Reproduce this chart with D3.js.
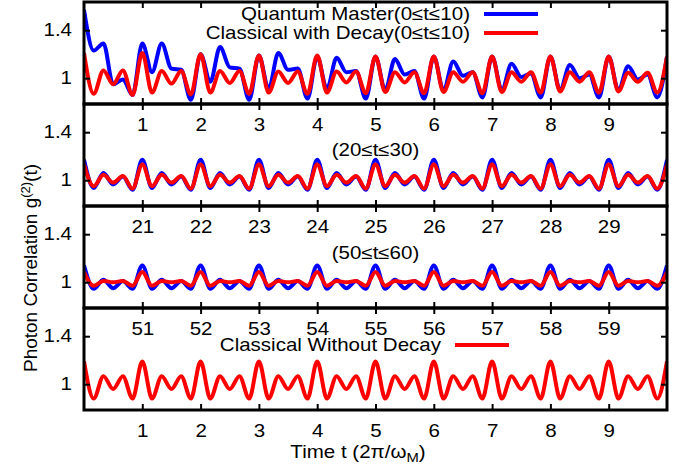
<!DOCTYPE html>
<html>
<head>
<meta charset="utf-8">
<script src="https://cdn.jsdelivr.net/npm/d3@7"></script>
<style>
body { margin: 0; background: #fff; }
text { font-family: "Liberation Sans", Arial, sans-serif; font-size: 18px; fill: #000; }
</style>
</head>
<body>
<div id="chart"></div>
<script>
// time offset of each panel and the labels under its x axis
var offsets = [0, 20, 50, 0];
var xTickLabels = [
    [1, 2, 3, 4, 5, 6, 7, 8, 9],
    [21, 22, 23, 24, 25, 26, 27, 28, 29],
    [51, 52, 53, 54, 55, 56, 57, 58, 59],
    [1, 2, 3, 4, 5, 6, 7, 8, 9]
];
var yTicks = [1, 1.4];
var samplesPerUnit = 6; // values below are read every 1/6 time unit

// g2(t), quantum master equation
var quantum0 = [
    1.57, 1.23, 1.29, 0.95, 0.99, 0.86,
    1.29, 1.05, 1.29, 1.08, 1.07, 0.82,
    1.20, 0.97, 1.26, 1.09, 1.08, 0.82,
    1.19, 0.91, 1.21, 1.07, 1.08, 0.83,
    1.18, 0.91, 1.17, 1.05, 1.06, 0.83,
    1.18, 0.90, 1.16, 1.03, 1.06, 0.83,
    1.18, 0.90, 1.14, 1.02, 1.05, 0.84,
    1.18, 0.90, 1.12, 1.01, 1.04, 0.84,
    1.18, 0.90, 1.11, 1.00, 1.03, 0.84,
    1.18, 0.90, 1.10, 0.99, 1.03, 0.84,
    1.18
];
var quantum20 = [
    1.17, 0.935, 1.06, 0.965, 1.03, 0.92,
    1.17, 0.935, 1.06, 0.965, 1.03, 0.92,
    1.17, 0.935, 1.06, 0.965, 1.03, 0.92,
    1.17, 0.935, 1.06, 0.965, 1.03, 0.92,
    1.17, 0.935, 1.06, 0.965, 1.03, 0.92,
    1.17, 0.935, 1.06, 0.965, 1.03, 0.92,
    1.17, 0.935, 1.06, 0.965, 1.03, 0.92,
    1.17, 0.935, 1.06, 0.965, 1.03, 0.92,
    1.17, 0.935, 1.06, 0.965, 1.03, 0.92,
    1.17, 0.935, 1.06, 0.965, 1.03, 0.92,
    1.17
];
var quantum50 = [
    1.14, 0.945, 1.02, 0.95, 1.01, 0.945,
    1.14, 0.945, 1.02, 0.95, 1.01, 0.945,
    1.14, 0.945, 1.02, 0.95, 1.01, 0.945,
    1.14, 0.945, 1.02, 0.95, 1.01, 0.945,
    1.14, 0.945, 1.02, 0.95, 1.01, 0.945,
    1.14, 0.945, 1.02, 0.95, 1.01, 0.945,
    1.14, 0.945, 1.02, 0.95, 1.01, 0.945,
    1.14, 0.945, 1.02, 0.95, 1.01, 0.945,
    1.14, 0.945, 1.02, 0.95, 1.01, 0.945,
    1.14, 0.945, 1.02, 0.95, 1.01, 0.945,
    1.14
];

// g2(t), classical with decay
var decay0 = [
    1.21, 0.87, 1.065, 0.95, 1.065, 0.86,
    1.21, 0.88, 1.06, 0.955, 1.06, 0.865,
    1.20, 0.88, 1.06, 0.96, 1.06, 0.87,
    1.19, 0.88, 1.055, 0.96, 1.055, 0.87,
    1.19, 0.88, 1.055, 0.965, 1.055, 0.875,
    1.18, 0.885, 1.05, 0.965, 1.05, 0.875,
    1.18, 0.885, 1.05, 0.97, 1.05, 0.875,
    1.18, 0.885, 1.05, 0.97, 1.05, 0.88,
    1.18, 0.89, 1.05, 0.97, 1.05, 0.88,
    1.18, 0.89, 1.045, 0.97, 1.045, 0.88,
    1.18
];
var decay20 = [
    1.13, 0.95, 1.045, 0.98, 1.035, 0.93,
    1.13, 0.95, 1.045, 0.98, 1.035, 0.93,
    1.13, 0.95, 1.045, 0.98, 1.035, 0.93,
    1.13, 0.95, 1.045, 0.98, 1.035, 0.93,
    1.13, 0.95, 1.045, 0.98, 1.035, 0.93,
    1.13, 0.95, 1.045, 0.98, 1.035, 0.93,
    1.13, 0.95, 1.045, 0.98, 1.035, 0.93,
    1.13, 0.95, 1.045, 0.98, 1.035, 0.93,
    1.13, 0.95, 1.045, 0.98, 1.035, 0.93,
    1.13, 0.95, 1.045, 0.98, 1.035, 0.93,
    1.13
];
var decay50 = [
    1.085, 0.97, 1.01, 1.0, 1.01, 0.97,
    1.085, 0.97, 1.01, 1.0, 1.01, 0.97,
    1.085, 0.97, 1.01, 1.0, 1.01, 0.97,
    1.085, 0.97, 1.01, 1.0, 1.01, 0.97,
    1.085, 0.97, 1.01, 1.0, 1.01, 0.97,
    1.085, 0.97, 1.01, 1.0, 1.01, 0.97,
    1.085, 0.97, 1.01, 1.0, 1.01, 0.97,
    1.085, 0.97, 1.01, 1.0, 1.01, 0.97,
    1.085, 0.97, 1.01, 1.0, 1.01, 0.97,
    1.085, 0.97, 1.01, 1.0, 1.01, 0.97,
    1.085
];

// g2(t), classical without decay
var noDecay = [
    1.19, 0.88, 1.067, 0.96, 1.067, 0.88,
    1.19, 0.88, 1.067, 0.96, 1.067, 0.88,
    1.19, 0.88, 1.067, 0.96, 1.067, 0.88,
    1.19, 0.88, 1.067, 0.96, 1.067, 0.88,
    1.19, 0.88, 1.067, 0.96, 1.067, 0.88,
    1.19, 0.88, 1.067, 0.96, 1.067, 0.88,
    1.19, 0.88, 1.067, 0.96, 1.067, 0.88,
    1.19, 0.88, 1.067, 0.96, 1.067, 0.88,
    1.19, 0.88, 1.067, 0.96, 1.067, 0.88,
    1.19, 0.88, 1.067, 0.96, 1.067, 0.88,
    1.19
];

var panels = [
    { blue: quantum0, red: decay0 },
    { blue: quantum20, red: decay20 },
    { blue: quantum50, red: decay50 },
    { blue: null, red: noDecay }
];

var left = 84, right = 667;
var panelBottoms = [104, 206, 308, 410];
var panelHeight = 102;
var textStretch = 1.14; // the original lettering is wider than it is tall

var svg = d3.select("#chart").append("svg")
    .attr("width", 694)
    .attr("height", 468);

function toPoints(values, off) {
    return values.map(function (v, i) { return { t: off + i / samplesPerUnit, g: v }; });
}

// widen text horizontally around its anchor point
function stretch(sel) {
    sel.each(function () {
        var t = d3.select(this);
        var x = +t.attr("x") || 0, y = +t.attr("y") || 0;
        t.attr("transform", "translate(" + x + "," + y + ") scale(" + textStretch + ",1) translate(" + (-x) + "," + (-y) + ")");
    });
}

panels.forEach(function (p, k) {
    var off = offsets[k];
    var bottom = panelBottoms[k];
    var top = bottom - panelHeight;

    var x = d3.scaleLinear().domain([off, off + 10]).range([left, right]);
    var y = d3.scaleLinear().domain([0.785, 1.635]).range([bottom, top]);

    var g = svg.append("g").attr("class", "panel");

    svg.append("clipPath").attr("id", "clip" + k)
        .append("rect")
        .attr("x", left).attr("y", top)
        .attr("width", right - left).attr("height", panelHeight);

    var line = d3.line()
        .x(function (d) { return x(d.t); })
        .y(function (d) { return y(d.g); })
        .curve(d3.curveMonotoneX);

    var curves = g.append("g").attr("clip-path", "url(#clip" + k + ")");
    if (p.blue) {
        curves.append("path")
            .datum(toPoints(p.blue, off))
            .attr("d", line)
            .attr("fill", "none")
            .attr("stroke", "#0000ff")
            .attr("stroke-width", 4)
            .attr("stroke-linejoin", "round");
    }
    curves.append("path")
        .datum(toPoints(p.red, off))
        .attr("d", line)
        .attr("fill", "none")
        .attr("stroke", "#ff0000")
        .attr("stroke-width", 4)
        .attr("stroke-linejoin", "round");

    var tickVals = xTickLabels[k];

    // bottom axis: inward ticks + labels
    var xb = g.append("g")
        .attr("transform", "translate(0," + bottom + ")")
        .call(d3.axisBottom(x).tickValues(tickVals).tickSizeInner(-6).tickSizeOuter(0)
            .tickPadding(14).tickFormat(d3.format("d")));
    // top mirror ticks
    var xt = g.append("g")
        .attr("transform", "translate(0," + top + ")")
        .call(d3.axisTop(x).tickValues(tickVals).tickSizeInner(-6).tickSizeOuter(0)
            .tickFormat(""));
    // y axis
    var yl = g.append("g")
        .attr("transform", "translate(" + left + ",0)")
        .call(d3.axisLeft(y).tickValues(yTicks).tickSizeInner(-6).tickSizeOuter(0)
            .tickPadding(12).tickFormat(function (d) { return d === 1 ? "1" : "1.4"; }));
    var yr = g.append("g")
        .attr("transform", "translate(" + right + ",0)")
        .call(d3.axisRight(y).tickValues(yTicks).tickSizeInner(-6).tickSizeOuter(0)
            .tickFormat(""));

    [xb, xt, yl, yr].forEach(function (a) {
        a.select(".domain").remove();
        a.selectAll("line").attr("stroke", "#000").attr("stroke-width", 2);
        a.selectAll("text").attr("font-size", null).attr("font-family", null).style("font-size", "18px");
    });
    stretch(xb.selectAll("text"));
    stretch(yl.selectAll("text"));

    g.append("rect")
        .attr("x", left).attr("y", top)
        .attr("width", right - left).attr("height", panelHeight)
        .attr("fill", "none")
        .attr("stroke", "#000")
        .attr("stroke-width", 3);
});

// legends and range notes
function legendRow(xText, yMid, label, color) {
    svg.append("text")
        .attr("x", xText).attr("y", yMid + 6.5)
        .attr("text-anchor", "end")
        .text(label)
        .call(stretch);
    svg.append("line")
        .attr("x1", xText + 14).attr("x2", xText + 68)
        .attr("y1", yMid).attr("y2", yMid)
        .attr("stroke", color).attr("stroke-width", 4);
}
legendRow(470, 14, "Quantum Master(0\u2264t\u226410)", "#0000ff");
legendRow(470, 33, "Classical with Decay(0\u2264t\u226410)", "#ff0000");
legendRow(441, 345, "Classical Without Decay", "#ff0000");

svg.append("text").attr("x", 375.5).attr("y", 156.5).attr("text-anchor", "middle")
    .text("(20\u2264t\u226430)").call(stretch);
svg.append("text").attr("x", 375.5).attr("y", 259.5).attr("text-anchor", "middle")
    .text("(50\u2264t\u226460)").call(stretch);

// axis titles
var xTitle = svg.append("text")
    .attr("x", 358).attr("y", 458)
    .attr("text-anchor", "middle")
    .text("Time t (2\u03c0/\u03c9");
xTitle.append("tspan").attr("dy", 4).style("font-size", "13px").text("M");
xTitle.append("tspan").attr("dy", -4).text(")");
stretch(xTitle);

var yTitle = svg.append("text")
    .attr("transform", "translate(37,268) rotate(-90)")
    .attr("text-anchor", "middle")
    .style("font-size", "19px")
    .text("Photon Correlation g");
yTitle.append("tspan").attr("dy", -7).style("font-size", "13px").text("(2)");
yTitle.append("tspan").attr("dy", 7).text("(t)");
</script>
</body>
</html>
